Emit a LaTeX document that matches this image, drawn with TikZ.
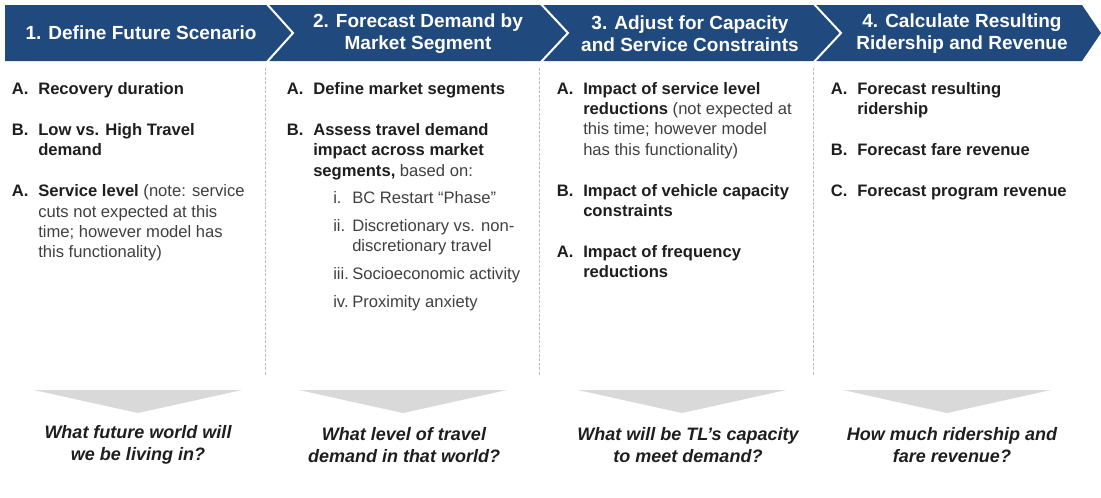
\documentclass[tikz,border=0pt]{standalone}
\usepackage{fontspec}
\setmainfont{Liberation Sans}
\usetikzlibrary{positioning}
\definecolor{hdrblue}{RGB}{32,74,125}
\definecolor{txtdark}{RGB}{30,30,30}
\definecolor{txtgray}{RGB}{64,64,64}
\definecolor{linegray}{RGB}{191,191,191}
\definecolor{arrowgray}{RGB}{217,217,217}
\newcommand{\rg}[1]{{\mdseries\color{txtgray}#1}}
\begin{document}
\begin{tikzpicture}[x=0.75pt, y=-0.75pt,
  head node/.style={align=center, text=white, inner sep=0pt, font=\fontsize{14.25}{16.5}\selectfont\bfseries},
  item node/.style={align=left, inner sep=0pt, text=txtdark, font=\fontsize{12.45}{15.2}\selectfont\bfseries},
  label node/.style={item node, anchor=north east, xshift=-7pt},
  sub node/.style={align=left, inner sep=0pt, text=txtgray, font=\fontsize{12.45}{15.2}\selectfont},
  sub label/.style={sub node, anchor=north west, xshift=-14.25pt},
  question node/.style={align=center, inner sep=0pt, text=txtdark, font=\fontsize{13.5}{16.9}\selectfont\bfseries\itshape},
  divider/.style={linegray, line width=0.75pt, dash pattern=on 2.25pt off 1.1pt},
  gap/.style={below=15.2pt of #1, anchor=north west},
  sub gap/.style={below=5.25pt of #1, anchor=north west}]
\useasboundingbox[fill=white] (0,0) rectangle (1101,497);

% header band with chevron cuts
\fill[hdrblue] (5,5) -- (1082,5) -- (1101,33) -- (1082,61) -- (5,61) -- cycle;
\foreach \x/\tip in {266/293, 540/568, 813/841}
  \draw[white, line width=1.5pt] (\x,3) -- (\tip,33) -- (\x,63);

\node[head node] (h1) at (141,33) {1. Define Future Scenario};
\node[head node] (h2) at (418,34) {2. Forecast Demand by\\Market Segment};
\node[head node] (h3) at (690,34) {3. Adjust for Capacity\\and Service Constraints};
\node[head node] (h4) at (962,34) {4. Calculate Resulting\\Ridership and Revenue};

% column dividers and grey arrows
\foreach \x in {265,539,813}
  \draw[divider] (\x,68) -- (\x,376);
\foreach \cx in {138,403,682,947}
  \fill[arrowgray] (\cx-104,390) -- (\cx+104,390) -- (\cx,413) -- cycle;

% column 1
\node[item node, anchor=north west] (1a) at (38,80) {\strut Recovery duration\strut};
\node[item node, gap=1a.south west] (1b) {\strut Low vs. High Travel\\demand\strut};
\node[item node, gap=1b.south west] (1c) {\strut Service level \rg{(note: service}\\\rg{cuts not expected at this}\\\rg{time; however model has}\\\rg{this functionality)}\strut};
\node[label node] at (1a.north west) {\strut A.};
\node[label node] at (1b.north west) {\strut B.};
\node[label node] at (1c.north west) {\strut A.};

% column 2
\node[item node, anchor=north west] (2a) at (313,80) {\strut Define market segments\strut};
\node[item node, gap=2a.south west] (2b) {\strut Assess travel demand\\impact across market\\segments, \rg{based on:}\strut};
\node[label node] at (2a.north west) {\strut A.};
\node[label node] at (2b.north west) {\strut B.};
\node[sub node, below=5.25pt of 2b.south west, anchor=north west, xshift=29.25pt] (2i) {\strut BC Restart “Phase”\strut};
\node[sub node, sub gap=2i.south west] (2ii) {\strut Discretionary vs. non-\\discretionary travel\strut};
\node[sub node, sub gap=2ii.south west] (2iii) {\strut Socioeconomic activity\strut};
\node[sub node, sub gap=2iii.south west] (2iv) {\strut Proximity anxiety\strut};
\node[sub label] at (2i.north west) {\strut i.};
\node[sub label] at (2ii.north west) {\strut ii.};
\node[sub label] at (2iii.north west) {\strut iii.};
\node[sub label] at (2iv.north west) {\strut iv.};

% column 3
\node[item node, anchor=north west] (3a) at (583,80) {\strut Impact of service level\\reductions \rg{(not expected at}\\\rg{this time; however model}\\\rg{has this functionality)}\strut};
\node[item node, gap=3a.south west] (3b) {\strut Impact of vehicle capacity\\constraints\strut};
\node[item node, gap=3b.south west] (3c) {\strut Impact of frequency\\reductions\strut};
\node[label node] at (3a.north west) {\strut A.};
\node[label node] at (3b.north west) {\strut B.};
\node[label node] at (3c.north west) {\strut A.};

% column 4
\node[item node, anchor=north west] (4a) at (857,80) {\strut Forecast resulting\\ridership\strut};
\node[item node, gap=4a.south west] (4b) {\strut Forecast fare revenue\strut};
\node[item node, gap=4b.south west] (4c) {\strut Forecast program revenue\strut};
\node[label node] at (4a.north west) {\strut A.};
\node[label node] at (4b.north west) {\strut B.};
\node[label node] at (4c.north west) {\strut C.};

% questions
\node[question node] (q1) at (138,445) {What future world will\\we be living in?};
\node[question node] (q2) at (404,445) {What level of travel\\demand in that world?};
\node[question node] (q3) at (688,445) {What will be TL’s capacity\\to meet demand?};
\node[question node] (q4) at (952,445) {How much ridership and\\fare revenue?};
\end{tikzpicture}
\end{document}
